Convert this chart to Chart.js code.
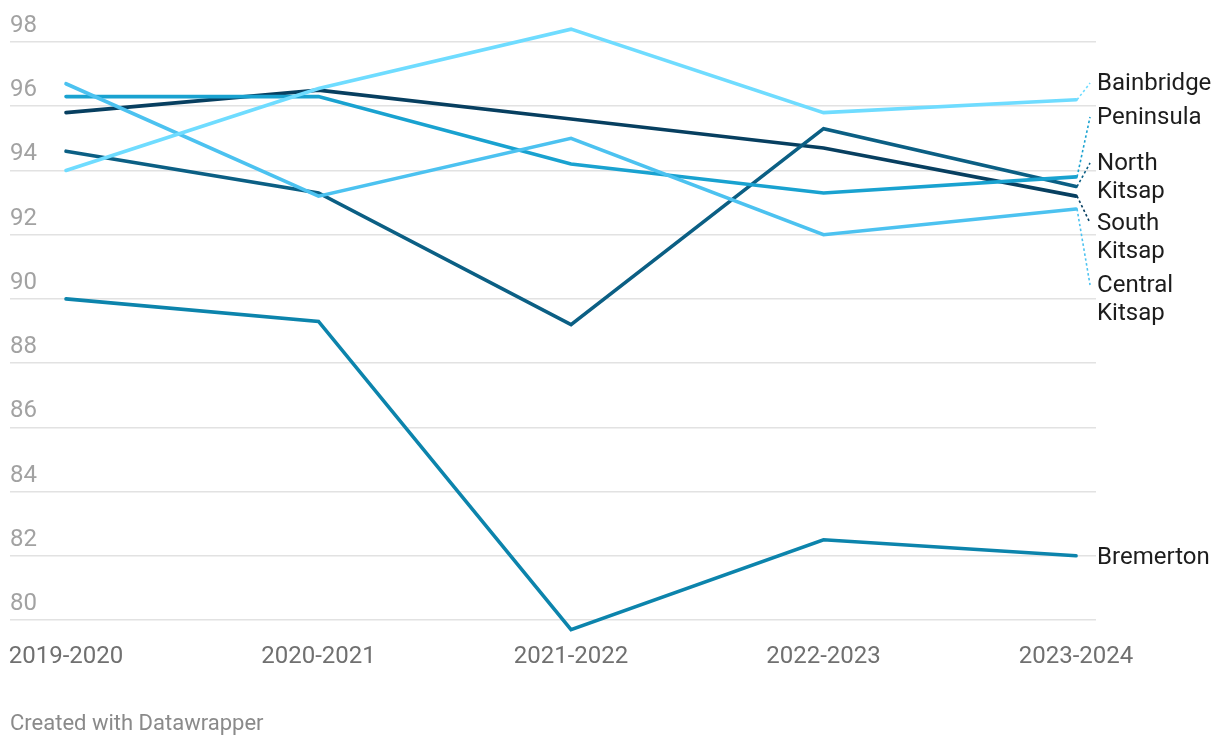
<!DOCTYPE html>
<html><head><meta charset="utf-8">
<script src="https://cdn.jsdelivr.net/npm/chart.js@4/dist/chart.umd.min.js"></script>
<style>html,body{margin:0;padding:0;background:#fff}#wrap{width:1220px;height:746px;position:relative}</style>
</head><body><div id="wrap"><canvas id="c" width="1220" height="746"></canvas></div>
<script>
const categories = ["2019-2020", "2020-2021", "2021-2022", "2022-2023", "2023-2024"];
const seriesNames = ["Bainbridge", "Peninsula", "North Kitsap", "South Kitsap", "Central Kitsap", "Bremerton"];
const bainbridge = [94.0, 96.55, 98.4, 95.8, 96.2];
const peninsula = [96.3, 96.3, 94.2, 93.3, 93.8];
const northKitsap = [94.6, 93.3, 89.2, 95.3, 93.5];
const southKitsap = [95.8, 96.5, 95.6, 94.7, 93.2];
const centralKitsap = [96.7, 93.2, 95.0, 92.0, 92.8];
const bremerton = [90.0, 89.3, 79.7, 82.5, 82.0];
const yTickValues = [80, 82, 84, 86, 88, 90, 92, 94, 96, 98];

const seriesValues = [bainbridge, peninsula, northKitsap, southKitsap, centralKitsap, bremerton];
const seriesColors = ["#6fdcff", "#19a2d0", "#0b5f84", "#073f60", "#4cc2f0", "#0c84ac"];
// first-line centre of each end label, in pixels (layout only)
const labelLayoutY = [84, 118, 164, 224, 286, 558];
// draw order (back to front)
const drawOrder = [0, 4, 1, 5, 2, 3];

const FONT = "Roboto, 'Noto Sans', sans-serif";

const endLabels = {
  id: 'endLabels',
  afterDatasetsDraw(chart) {
    const ctx = chart.ctx;
    ctx.save();
    chart.data.datasets.forEach((ds, i) => {
      const meta = chart.getDatasetMeta(i);
      const last = meta.data[meta.data.length - 1];
      const ly = labelLayoutY[ds.seriesIndex];
      const lines = ds.label.split(' ');
      if (Math.abs(ly - last.y) > 4) {
        ctx.beginPath();
        ctx.setLineDash([2.5, 2.5]);
        ctx.lineWidth = 1.6;
        ctx.strokeStyle = ds.borderColor;
        ctx.moveTo(last.x + 1, last.y);
        ctx.lineTo(last.x + 14, ly - 1);
        ctx.stroke();
        ctx.setLineDash([]);
      }
      ctx.fillStyle = '#1d1d1d';
      ctx.font = "24px " + FONT;
      ctx.textAlign = 'left';
      ctx.textBaseline = 'middle';
      lines.forEach((t, k) => ctx.fillText(t, last.x + 21, ly + k * 27.5));
    });
    ctx.restore();
  },
  afterDraw(chart) {
    const ctx = chart.ctx;
    ctx.save();
    ctx.fillStyle = '#8a8a8a';
    ctx.font = "22px " + FONT;
    ctx.textAlign = 'left';
    ctx.textBaseline = 'middle';
    ctx.fillText('Created with Datawrapper', 10, 724);
    ctx.restore();
  }
};

const datasets = drawOrder.map(si => ({
  label: seriesNames[si],
  seriesIndex: si,
  data: seriesValues[si].map((v, i) => ({ x: i, y: v })),
  borderColor: seriesColors[si],
  backgroundColor: seriesColors[si],
  borderWidth: 3.6,
  pointRadius: 0,
  tension: 0,
  clip: false,
  borderCapStyle: 'round'
}));

new Chart(document.getElementById('c'), {
  type: 'line',
  data: { datasets },
  plugins: [endLabels],
  options: {
    responsive: false,
    animation: false,
    devicePixelRatio: 1,
    layout: { padding: { left: 10, right: 124, top: 42, bottom: 76 } },
    plugins: { legend: { display: false }, tooltip: { enabled: false } },
    scales: {
      x: {
        type: 'linear',
        min: -0.2218,
        max: 4.079,
        grid: { display: false, drawTicks: false },
        border: { display: false },
        afterBuildTicks: axis => { axis.ticks = categories.map((c, i) => ({ value: i })); },
        afterFit: axis => { axis.paddingLeft = 0; axis.paddingRight = 0; axis.height = 50; },
        ticks: {
          autoSkip: false,
          maxRotation: 0,
          padding: 23,
          color: '#707070',
          font: { family: FONT, size: 24 },
          callback: v => categories[v]
        }
      },
      y: {
        min: 80,
        max: 98,
        afterBuildTicks: axis => { axis.ticks = yTickValues.map(v => ({ value: v })); },
        afterFit: axis => { axis.paddingTop = 0; axis.paddingBottom = 0; axis.width = 0; },
        grid: { color: '#e2e2e2', lineWidth: 1.6, drawTicks: false },
        border: { display: false },
        ticks: {
          mirror: true,
          padding: 0,
          labelOffset: -16,
          color: '#a2a2a2',
          font: { family: FONT, size: 24 }
        }
      }
    }
  }
});
</script>
</body></html>
